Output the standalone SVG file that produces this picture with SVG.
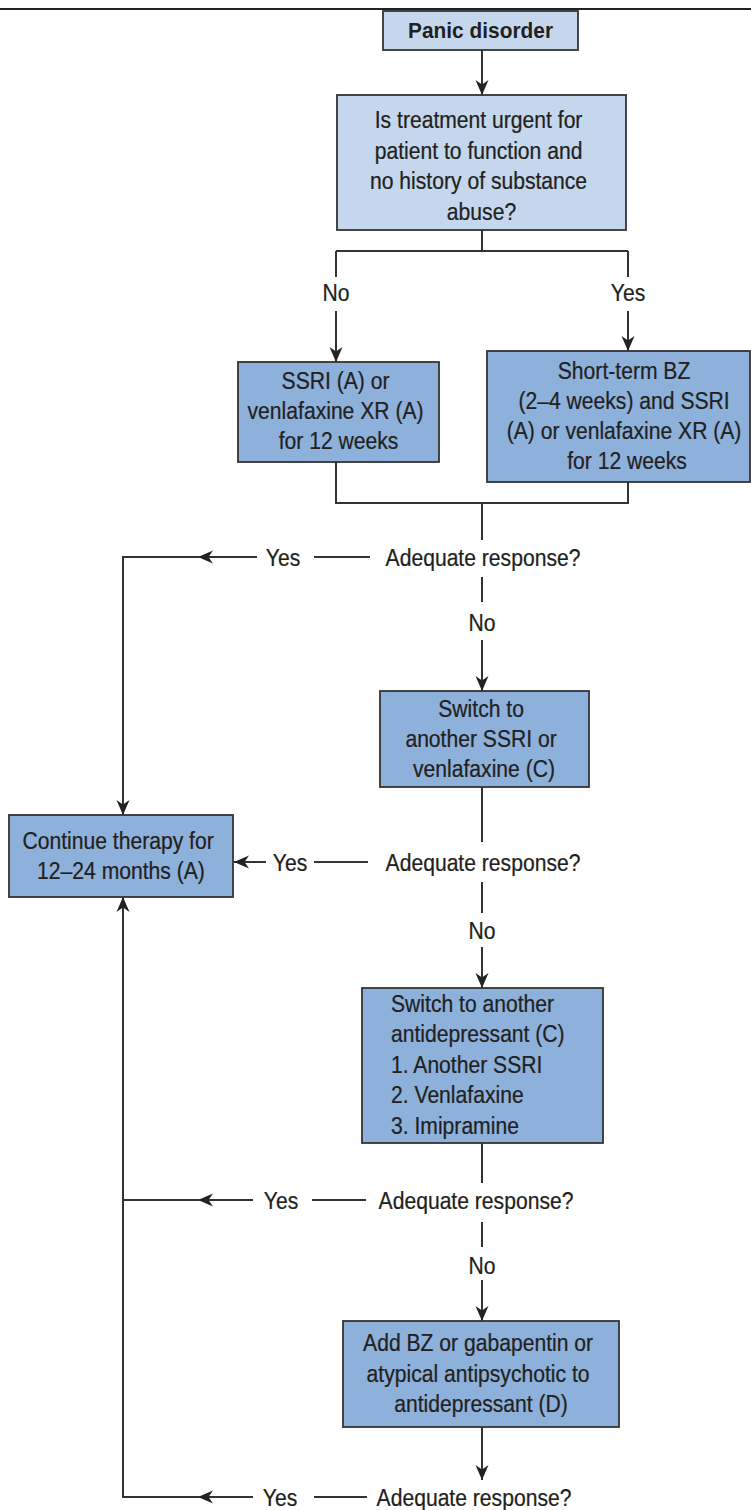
<svg xmlns="http://www.w3.org/2000/svg" width="751" height="1510" viewBox="0 0 751 1510">
<style>
.t{font-family:"Liberation Sans",Arial,sans-serif;font-size:24px;fill:#231f20;stroke:#231f20;stroke-width:0.25}
.c{text-anchor:middle}
.b{font-weight:bold;font-size:22px;stroke-width:0}
.lb{fill:#c4d7ed;stroke:#333;stroke-width:1.8}
.db{fill:#8db1db;stroke:#333;stroke-width:1.8}
.ln{fill:none;stroke:#333;stroke-width:2}
</style>
<defs>
<marker id="ah" markerUnits="userSpaceOnUse" markerWidth="16" markerHeight="14" refX="15" refY="7" orient="auto">
<path d="M0,0.5 L15,7 L0,13.5 L4.5,7 z" fill="#222"/>
</marker>
</defs>
<rect width="751" height="1510" fill="#fff"/>
<line x1="0" y1="9" x2="751" y2="9" stroke="#222" stroke-width="2"/>

<g id="connectors" class="ln">
<path d="M482,50 V95" marker-end="url(#ah)"/>
<path d="M482,230 V251 M336,251 H628 M336,251 V277 M628,251 V277"/>
<path d="M336,311 V362" marker-end="url(#ah)"/>
<path d="M628,311 V351" marker-end="url(#ah)"/>
<path d="M336,462 V503 H628 V482 M482,503 V540"/>
<path d="M482,577 V602"/>
<path d="M482,640 V691" marker-end="url(#ah)"/>
<path d="M370,557 H314"/>
<path d="M257,557 H198" marker-end="url(#ah)"/>
<path d="M200,557 H123 V815" marker-end="url(#ah)"/>
<path d="M482,787 V842"/>
<path d="M368,862 H314"/>
<path d="M266,862 H234" marker-end="url(#ah)"/>
<path d="M482,882 V913"/>
<path d="M482,947 V988" marker-end="url(#ah)"/>
<path d="M482,1143 V1183"/>
<path d="M366,1200 H312"/>
<path d="M253,1200 H198" marker-end="url(#ah)"/>
<path d="M200,1200 H123"/>
<path d="M482,1222 V1247"/>
<path d="M482,1280 V1321" marker-end="url(#ah)"/>
<path d="M482,1427 V1480" marker-end="url(#ah)"/>
<path d="M367,1497 H314"/>
<path d="M253,1497 H198" marker-end="url(#ah)"/>
<path d="M200,1497 H123 V897" marker-end="url(#ah)"/>
</g>

<g id="labels">
<text class="t c" transform="matrix(0.88 0 0 1 336 0)" x="0" y="301">No</text>
<text class="t c" transform="matrix(0.88 0 0 1 628 0)" x="0" y="301">Yes</text>
<text class="t c" transform="matrix(0.88 0 0 1 483 0)" x="0" y="566">Adequate response?</text>
<text class="t c" transform="matrix(0.88 0 0 1 283 0)" x="0" y="566">Yes</text>
<text class="t c" transform="matrix(0.88 0 0 1 482 0)" x="0" y="631">No</text>
<text class="t c" transform="matrix(0.88 0 0 1 483 0)" x="0" y="871">Adequate response?</text>
<text class="t c" transform="matrix(0.88 0 0 1 290 0)" x="0" y="871">Yes</text>
<text class="t c" transform="matrix(0.88 0 0 1 482 0)" x="0" y="939">No</text>
<text class="t c" transform="matrix(0.88 0 0 1 476 0)" x="0" y="1209">Adequate response?</text>
<text class="t c" transform="matrix(0.88 0 0 1 281 0)" x="0" y="1209">Yes</text>
<text class="t c" transform="matrix(0.88 0 0 1 482 0)" x="0" y="1274">No</text>
<text class="t c" transform="matrix(0.88 0 0 1 474 0)" x="0" y="1506">Adequate response?</text>
<text class="t c" transform="matrix(0.88 0 0 1 280 0)" x="0" y="1506">Yes</text>
</g>

<g id="panic">
<rect class="lb" x="383" y="11" width="195" height="39"/>
<text class="t c b" transform="matrix(0.95 0 0 1 480.5 0)" x="0" y="38">Panic disorder</text>
</g>

<g id="question">
<rect class="lb" x="337" y="95" width="289" height="135"/>
<text class="t c" transform="matrix(0.88 0 0 1 481.5 0)">
<tspan x="0" y="128">Is treatment urgent for</tspan>
<tspan x="0" y="159">patient to function and</tspan>
<tspan x="0" y="189">no history of substance</tspan>
<tspan x="0" y="220">abuse?</tspan>
</text>
</g>

<g id="ssri">
<rect class="db" x="238" y="362" width="201" height="100"/>
<text class="t c" transform="matrix(0.88 0 0 1 338.5 0)">
<tspan x="0" y="389">SSRI (A) or</tspan>
<tspan x="0" y="419">venlafaxine XR (A)</tspan>
<tspan x="0" y="449">for 12 weeks</tspan>
</text>
</g>

<g id="shortbz">
<rect class="db" x="487" y="351" width="263" height="131"/>
<text class="t c" transform="matrix(0.88 0 0 1 627 0)">
<tspan x="0" y="379">Short-term BZ</tspan>
<tspan x="0" y="409">(2–4 weeks) and SSRI</tspan>
<tspan x="0" y="439">(A) or venlafaxine XR (A)</tspan>
<tspan x="0" y="469">for 12 weeks</tspan>
</text>
</g>

<g id="switch1">
<rect class="db" x="380" y="691" width="209" height="96"/>
<text class="t c" transform="matrix(0.88 0 0 1 484 0)">
<tspan x="0" y="717">Switch to</tspan>
<tspan x="0" y="747">another SSRI or</tspan>
<tspan x="0" y="777">venlafaxine (C)</tspan>
</text>
</g>

<g id="continue">
<rect class="db" x="9" y="815" width="224" height="82"/>
<text class="t c" transform="matrix(0.88 0 0 1 121 0)">
<tspan x="0" y="849">Continue therapy for</tspan>
<tspan x="0" y="879">12–24 months (A)</tspan>
</text>
</g>

<g id="switch2">
<rect class="db" x="362" y="988" width="241" height="155"/>
<text class="t" transform="matrix(0.88 0 0 1 391 0)">
<tspan x="0" y="1012">Switch to another</tspan>
<tspan x="0" y="1042.5">antidepressant (C)</tspan>
<tspan x="0" y="1073">1. Another SSRI</tspan>
<tspan x="0" y="1103.5">2. Venlafaxine</tspan>
<tspan x="0" y="1134">3. Imipramine</tspan>
</text>
</g>

<g id="addbz">
<rect class="db" x="343" y="1321" width="276" height="106"/>
<text class="t c" transform="matrix(0.88 0 0 1 481 0)">
<tspan x="0" y="1351">Add BZ or gabapentin or</tspan>
<tspan x="0" y="1382">atypical antipsychotic to</tspan>
<tspan x="0" y="1412">antidepressant (D)</tspan>
</text>
</g>
</svg>
